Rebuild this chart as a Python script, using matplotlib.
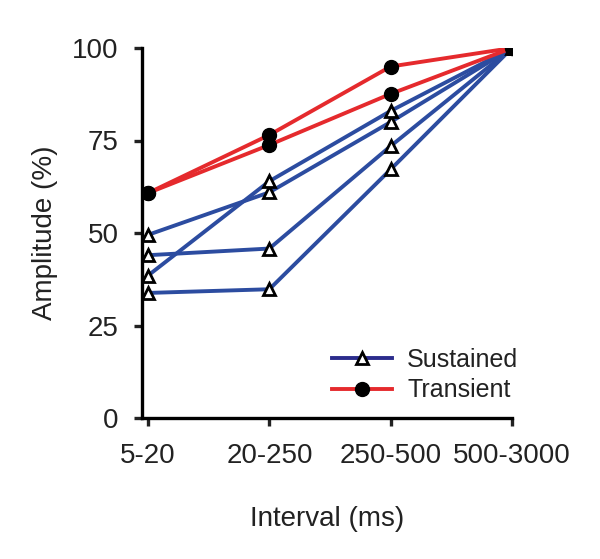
import numpy as np
import matplotlib.pyplot as plt
from matplotlib.lines import Line2D

plt.rcParams["font.family"] = ["Liberation Sans", "DejaVu Sans"]

intervals = ["5-20", "20-250", "250-500", "500-3000"]

# amplitude (%) per interval, one list per cell
sustained = [
    [49.5, 61.0, 80.0, 100],
    [38.5, 64.0, 83.0, 100],
    [44.0, 45.8, 73.5, 100],
    [33.8, 34.8, 67.2, 100],
]
transient = [
    [60.8, 76.5, 95.0, 100],
    [60.8, 73.8, 87.6, 100],
]

blue = "#2c4ca0"
red = "#e52a2d"

fig = plt.figure(figsize=(6, 5.59), dpi=100)
ax = fig.add_axes([142 / 600, 1 - 418 / 559, 370 / 600, 370 / 559])

x = np.arange(len(intervals))
for s in sustained:
    ax.plot(x, s, "-", color=blue, lw=2.8, marker="^", ms=9,
            mfc="white", mec="black", mew=2, zorder=3)
for t in transient:
    ax.plot(x, t, "-", color=red, lw=2.8, marker="o", ms=10,
            mfc="black", mec="black", zorder=4)

ax.set_xlim(-0.05, 3)
ax.set_ylim(0, 100)
ax.set_xticks(x)
ax.set_xticklabels(intervals)
ax.set_yticks([0, 25, 50, 75, 100])
for side in ["top", "right"]:
    ax.spines[side].set_visible(False)
for side in ["left", "bottom"]:
    ax.spines[side].set_linewidth(2.4)
ax.tick_params(axis="both", direction="out", length=6, width=2.4,
               labelsize=20, colors="#222222")
ax.tick_params(axis="y", pad=11)
ax.tick_params(axis="x", pad=12)

ax.set_xlabel("Interval (ms)", fontsize=20, labelpad=27, color="#222222")
ax.set_ylabel("Amplitude (%)", fontsize=20, labelpad=10, color="#222222")

handles = [
    Line2D([], [], color="#2b2c8c", lw=2.8, marker="^", ms=9,
           mfc="white", mec="black", mew=2),
    Line2D([], [], color=red, lw=2.8, marker="o", ms=10,
           mfc="black", mec="black"),
]
leg = ax.legend(handles, ["Sustained", "Transient"], frameon=False,
                fontsize=18, handlelength=2.4, handletextpad=0.6,
                labelspacing=0.25, borderpad=0, borderaxespad=0,
                loc="upper left",
                bbox_to_anchor=(332 / 600, 1 - 348 / 559),
                bbox_transform=fig.transFigure)
for txt in leg.get_texts():
    txt.set_color("#222222")

fig.savefig("out.png", dpi=100)
